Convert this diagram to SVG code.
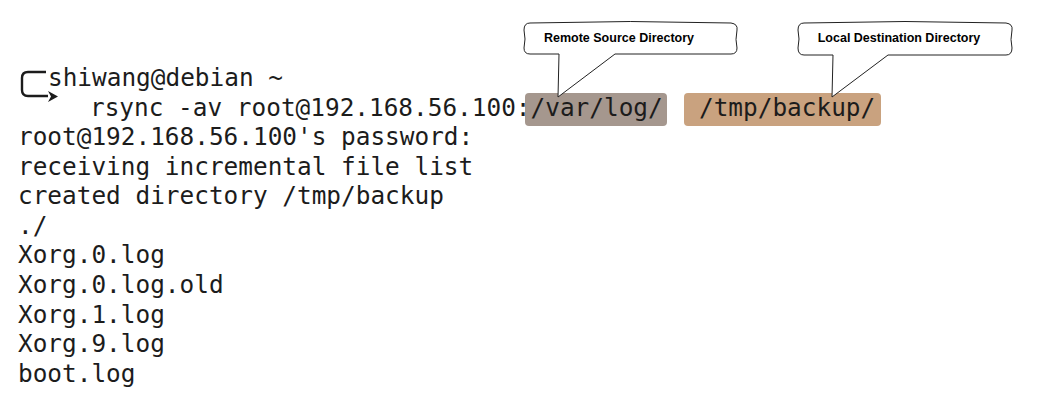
<svg xmlns="http://www.w3.org/2000/svg" width="1037" height="400" viewBox="0 0 1037 400">
<style>
.t{font-family:"DejaVu Sans Mono",monospace;font-size:24.4px;fill:#1c1c1c}
.c{font-family:"Liberation Sans",Arial,sans-serif;font-size:12.5px;font-weight:bold;fill:#000}
.co{fill:#fff;stroke:#222;stroke-width:1}
</style>
<rect width="1037" height="400" fill="#fff"/>
<g id="prompt">
<path d="M46,72 H28 Q22,72 22,78 V90 Q22,96 28,96 H48" fill="none" stroke="#1c1c1c" stroke-width="2.4"/>
<path d="M48,91 L58,96.5 L48,102 L51,96.5 Z" fill="#1c1c1c"/>
</g>
<g id="highlights">
<rect x="525" y="93" width="142" height="33" rx="4" fill="#a5978e"/>
<rect x="684" y="93" width="197" height="33" rx="4" fill="#c9a27f"/>
</g>
<g id="terminal">
<text class="t" x="48" y="86">shiwang@debian ~</text>
<text class="t" x="90" y="116">rsync -av root@192.168.56.100:/var/log/</text>
<text class="t" x="699" y="116">/tmp/backup/</text>
<text class="t" x="18" y="145">root@192.168.56.100's password:</text>
<text class="t" x="18" y="175">receiving incremental file list</text>
<text class="t" x="18" y="204">created directory /tmp/backup</text>
<text class="t" x="18" y="234">./</text>
<text class="t" x="18" y="263">Xorg.0.log</text>
<text class="t" x="18" y="293">Xorg.0.log.old</text>
<text class="t" x="18" y="323">Xorg.1.log</text>
<text class="t" x="18" y="352">Xorg.9.log</text>
<text class="t" x="18" y="382">boot.log</text>
</g>
<g id="callout-remote">
<path class="co" d="M530,23 Q630,20 731,23 Q738,24 737,30 Q735,40 737,48 Q737,54 731,54 L615,54 L558,97 L559,54 L530,54 Q524,54 524,48 Q526,39 524,30 Q524,23 530,23 Z"/>
<text class="c" x="619" y="42" text-anchor="middle">Remote Source Directory</text>
</g>
<g id="callout-local">
<path class="co" d="M804,23 Q905,20 1006,23 Q1013,24 1012,30 Q1010,40 1012,48 Q1012,55 1006,55 L888,55 L832,97 L833,55 L804,55 Q798,55 798,48 Q800,39 798,30 Q798,23 804,23 Z"/>
<text class="c" x="899" y="42" text-anchor="middle">Local Destination Directory</text>
</g>
</svg>
